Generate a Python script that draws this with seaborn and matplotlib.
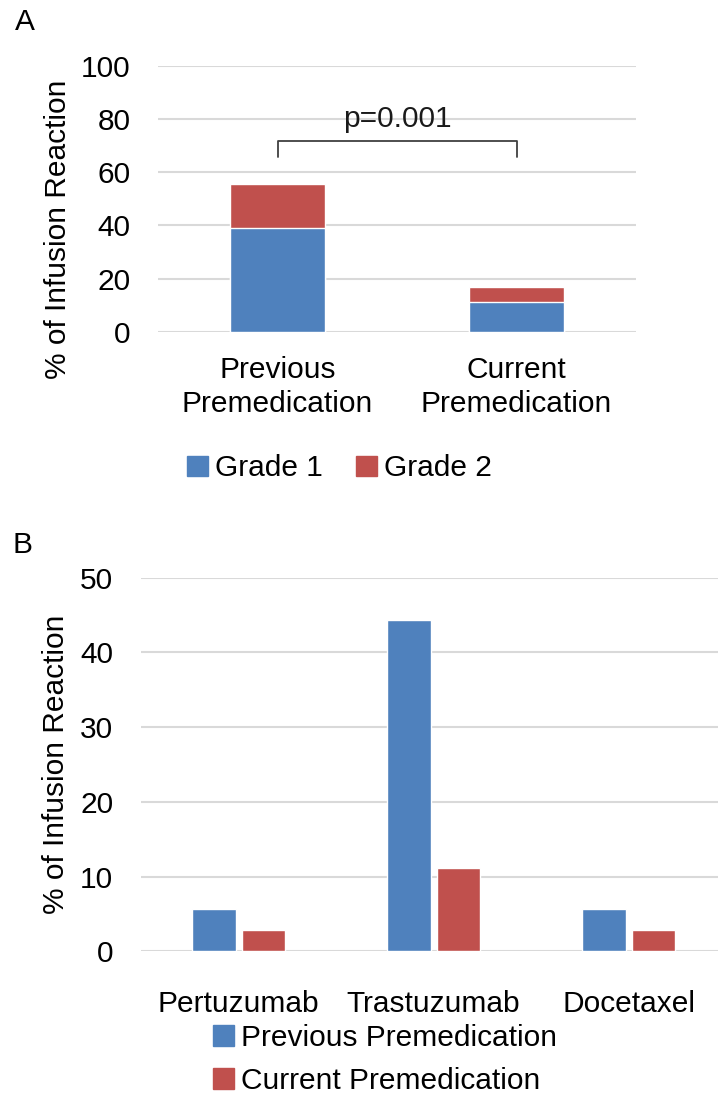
import matplotlib.pyplot as plt
from matplotlib.patches import Patch
import pandas as pd
import seaborn as sns

sns.set_style("white")
plt.rcParams["font.family"] = ["Liberation Sans", "DejaVu Sans"]
plt.rcParams["text.color"] = "black"
plt.rcParams["axes.labelcolor"] = "black"
plt.rcParams["xtick.color"] = "black"
plt.rcParams["ytick.color"] = "black"

# Panel A data
premed_groups = ["Previous\nPremedication", "Current\nPremedication"]
grade1 = [38.9, 11.1]
grade2 = [16.7, 5.6]

# Panel B data
drugs = ["Pertuzumab", "Trastuzumab", "Docetaxel"]
previous_premed = [5.6, 44.4, 5.6]
current_premed = [2.8, 11.1, 2.8]

blue = "#4F81BD"
red = "#C0504D"
grid_col = "#D9D9D9"
fs = 21.5

fig = plt.figure(figsize=(7.18, 10.97), dpi=100)
ax_a = fig.add_axes([0.2201, 0.6974, 0.6657, 0.2428])
ax_b = fig.add_axes([0.1964, 0.1328, 0.8148, 0.3406])

# ---- Panel A: stacked bars (total drawn first, grade 1 on top)
df_a = pd.DataFrame({"group": premed_groups, "g1": grade1, "g2": grade2})
df_a["total"] = df_a["g1"] + df_a["g2"]
sns.barplot(data=df_a, x="group", y="total", color=red, width=0.4,
            saturation=1, ax=ax_a, zorder=3)
sns.barplot(data=df_a, x="group", y="g1", color=blue, width=0.4,
            saturation=1, ax=ax_a, zorder=3)
ax_a.set_xlim(-0.5, 1.5)
ax_a.set_ylim(0, 100)
ax_a.set_yticks(range(0, 101, 20))

# significance bracket
ax_a.plot([0, 0, 1, 1], [65.5, 71.7, 71.7, 65.5], color="#404040", lw=1.3, zorder=4)
ax_a.text(0.5, 80, "p=0.001", ha="center", va="center", fontsize=fs, color="#1a1a1a", zorder=5)

ax_a.set_xlabel("")
ax_a.set_ylabel("% of Infusion Reaction", fontsize=fs)
ax_a.yaxis.set_label_coords(-0.18, 0.387)

fig.legend(handles=[Patch(color=blue, label="Grade 1"), Patch(color=red, label="Grade 2")],
           loc="center", bbox_to_anchor=(0.473, 0.573), ncol=2, frameon=False,
           fontsize=fs, handlelength=0.7, handleheight=0.7, handletextpad=0.25,
           columnspacing=1.1)

# ---- Panel B: grouped bars
df_b = pd.DataFrame({"drug": drugs, "Previous Premedication": previous_premed,
                     "Current Premedication": current_premed})
df_b = df_b.melt(id_vars="drug", var_name="premed", value_name="pct")
sns.barplot(data=df_b, x="drug", y="pct", hue="premed", palette=[blue, red],
            width=0.51, gap=0.12, saturation=1, ax=ax_b, zorder=3, legend=False)
ax_b.set_xlim(-0.5, 2.5)
ax_b.set_ylim(0, 50)
ax_b.set_yticks(range(0, 51, 10))
ax_b.set_xlabel("")
ax_b.set_ylabel("% of Infusion Reaction", fontsize=fs)
ax_b.yaxis.set_label_coords(-0.121, 0.5)

fig.legend(handles=[Patch(color=blue, label="Previous Premedication"),
                    Patch(color=red, label="Current Premedication")],
           loc="center", bbox_to_anchor=(0.536, 0.034), ncol=1, frameon=False,
           fontsize=fs, handlelength=0.7, handleheight=0.7, handletextpad=0.25,
           labelspacing=0.5)

for ax, xpad in [(ax_a, 17), (ax_b, 28)]:
    for side in ["top", "right", "left", "bottom"]:
        ax.spines[side].set_visible(False)
    ax.grid(axis="y", color=grid_col, lw=1.5, zorder=0)
    ax.set_axisbelow(True)
    ax.tick_params(axis="y", length=0, pad=20, labelsize=fs)
    ax.tick_params(axis="x", length=0, pad=xpad, labelsize=fs)
    ax.patch.set_alpha(0)

for lbl in ax_a.get_xticklabels():
    lbl.set_linespacing(1.3)

fig.text(0.021, 0.98, "A", fontsize=fs, ha="left", va="center")
fig.text(0.017, 0.503, "B", fontsize=fs, ha="left", va="center")

fig.savefig("out.png", dpi=100)
